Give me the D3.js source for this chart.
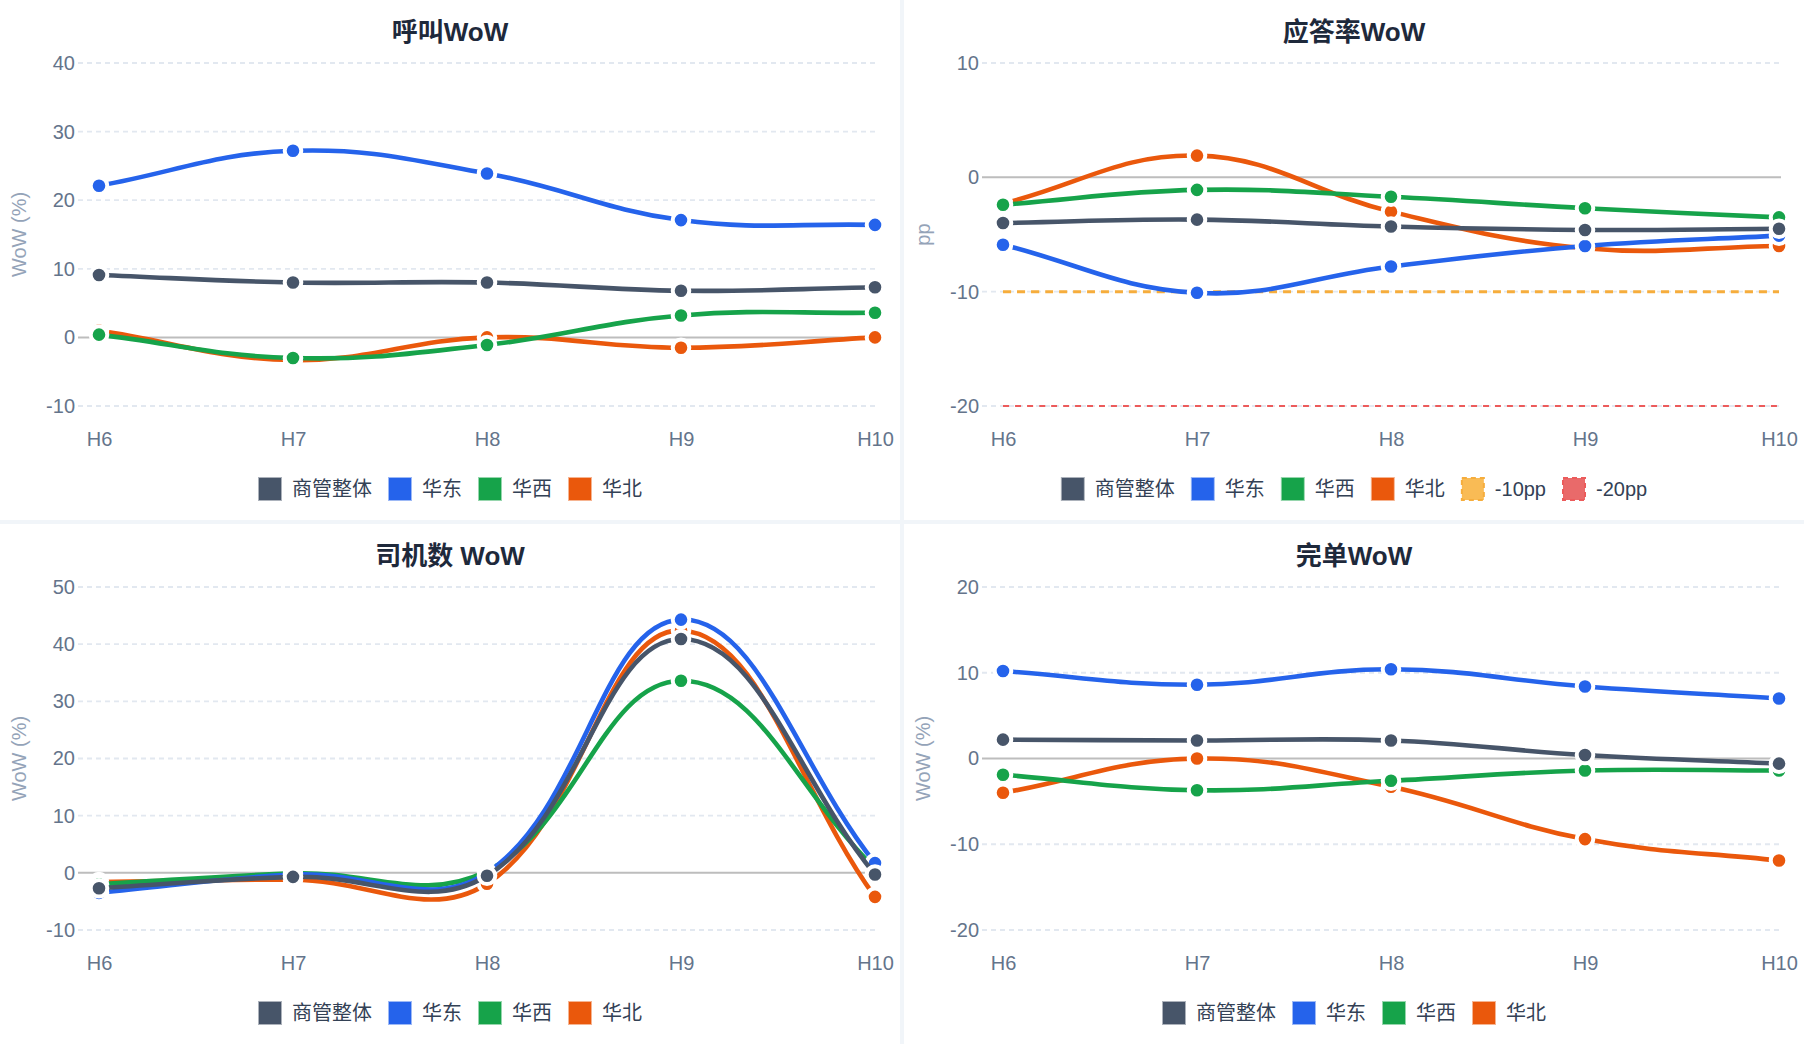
<!DOCTYPE html>
<html>
<head>
<meta charset="utf-8">
<script src="https://cdn.jsdelivr.net/npm/d3@7"></script>
<style>
    body { margin: 0; background: #f1f5f9; }
    #grid {
        display: grid;
        grid-template-columns: 900px 900px;
        grid-template-rows: 520px 520px;
        gap: 4px;
        width: 1804px;
        height: 1044px;
    }
    .panel { background: #ffffff; }
    text { font-family: "Helvetica Neue", Helvetica, Arial, "Noto Sans CJK SC", sans-serif; }
</style>
</head>
<body>
<div id="grid"></div>
<script>
//hourly WoW dashboard, four small line charts
const hours = ["H6", "H7", "H8", "H9", "H10"];
const seriesNames = ["商管整体", "华东", "华西", "华北"];
const seriesColors = ["#475569", "#2563eb", "#16a34a", "#ea580c"];

// 呼叫WoW (%)
const callTotal = [9.1, 8.0, 8.0, 6.8, 7.3];
const callEast = [22.1, 27.2, 23.9, 17.1, 16.4];
const callWest = [0.4, -3.0, -1.1, 3.2, 3.6];
const callNorth = [1.0, -3.3, 0.0, -1.5, 0.0];

// 应答率WoW (pp)
const answerTotal = [-4.0, -3.7, -4.3, -4.6, -4.5];
const answerEast = [-5.9, -10.1, -7.8, -6.0, -5.1];
const answerWest = [-2.4, -1.1, -1.7, -2.7, -3.5];
const answerNorth = [-2.3, 1.9, -3.0, -6.2, -6.0];

// 司机数 WoW (%)
const driverTotal = [-2.7, -0.7, -0.5, 40.9, -0.3];
const driverEast = [-3.5, -0.3, 0.0, 44.3, 1.7];
const driverWest = [-2.0, -0.1, 0.3, 33.6, 0.8];
const driverNorth = [-1.6, -1.2, -1.9, 42.4, -4.2];

// 完单WoW (%)
const orderTotal = [2.2, 2.1, 2.1, 0.4, -0.6];
const orderEast = [10.2, 8.6, 10.4, 8.4, 7.0];
const orderWest = [-1.9, -3.7, -2.6, -1.4, -1.4];
const orderNorth = [-4.0, 0.0, -3.3, -9.4, -11.9];

// reference lines on the answer-rate chart
const thresholdValues = [-10, -20];
const thresholdNames = ["-10pp", "-20pp"];
const thresholdColors = ["#f6ad3c", "#ec5b5b"];
const thresholdFills = ["#f9bb55", "#e96a6a"];

const callTicks = [-10, 0, 10, 20, 30, 40];
const answerTicks = [-20, -10, 0, 10];
const driverTicks = [-10, 0, 10, 20, 30, 40, 50];
const orderTicks = [-20, -10, 0, 10, 20];

const panels = [
    { title: "呼叫WoW", axisTitle: "WoW (%)", ticks: callTicks,
      values: [callTotal, callEast, callWest, callNorth], thresholds: false },
    { title: "应答率WoW", axisTitle: "pp", ticks: answerTicks,
      values: [answerTotal, answerEast, answerWest, answerNorth], thresholds: true },
    { title: "司机数 WoW", axisTitle: "WoW (%)", ticks: driverTicks,
      values: [driverTotal, driverEast, driverWest, driverNorth], thresholds: false },
    { title: "完单WoW", axisTitle: "WoW (%)", ticks: orderTicks,
      values: [orderTotal, orderEast, orderWest, orderNorth], thresholds: false }
];

// spline like chart.js "tension" (control points weighted by segment length)
function tensionCurve(t, top, bottom) {
    return function (context) {
        let pts = [];
        return {
            areaStart: function () {},
            areaEnd: function () {},
            lineStart: function () { pts = []; },
            point: function (x, y) { pts.push([+x, +y]); },
            lineEnd: function () {
                const n = pts.length;
                if (n === 0) return;
                const cps = pts.map(function (p, i) {
                    const prev = pts[Math.max(i - 1, 0)];
                    const next = pts[Math.min(i + 1, n - 1)];
                    const d01 = Math.hypot(p[0] - prev[0], p[1] - prev[1]);
                    const d12 = Math.hypot(next[0] - p[0], next[1] - p[1]);
                    let s01 = d01 / (d01 + d12), s12 = d12 / (d01 + d12);
                    if (isNaN(s01)) s01 = 0;
                    if (isNaN(s12)) s12 = 0;
                    const fa = t * s01, fb = t * s12;
                    const clamp = v => Math.max(top, Math.min(bottom, v));
                    return {
                        prev: [p[0] - fa * (next[0] - prev[0]), clamp(p[1] - fa * (next[1] - prev[1]))],
                        next: [p[0] + fb * (next[0] - prev[0]), clamp(p[1] + fb * (next[1] - prev[1]))]
                    };
                });
                context.moveTo(pts[0][0], pts[0][1]);
                for (let i = 1; i < n; i++) {
                    context.bezierCurveTo(cps[i - 1].next[0], cps[i - 1].next[1],
                        cps[i].prev[0], cps[i].prev[1], pts[i][0], pts[i][1]);
                }
            }
        };
    };
}

const width = 900;
const height = 520;
const plotLeft = 78, plotRight = 875;
const plotTop = 63, plotBottom = 406;

panels.forEach(function (panel) {
    const svg = d3.select("#grid")
        .append("div")
        .attr("class", "panel")
        .append("svg")
        .attr("width", width)
        .attr("height", height);

    const x = d3.scalePoint()
        .domain(hours)
        .range([99, 875]);

    const y = d3.scaleLinear()
        .domain(d3.extent(panel.ticks))
        .range([plotBottom, plotTop]);

    //title
    svg.append("text")
        .attr("x", width / 2)
        .attr("y", 32)
        .attr("dy", "0.35em")
        .attr("text-anchor", "middle")
        .attr("font-size", 26)
        .attr("font-weight", "bold")
        .style("fill", "#1e293b")
        .text(panel.title);

    //grid lines, zero line solid
    svg.selectAll(".grid")
        .data(panel.ticks)
        .enter()
        .append("line")
        .attr("x1", plotLeft)
        .attr("x2", d => d === 0 ? plotRight + 2 : plotRight)
        .attr("y1", d => y(d))
        .attr("y2", d => y(d))
        .attr("stroke", d => d === 0 ? "#bdbdbd" : "#e2e8f0")
        .attr("stroke-width", d => d === 0 ? 2 : 1.8)
        .attr("stroke-dasharray", d => d === 0 ? null : "5,4");

    // plain hyphen for negatives, like the original
    const yAxis = svg.append("g")
        .attr("transform", `translate(${plotLeft},0)`)
        .call(d3.axisLeft(y).tickValues(panel.ticks).tickSize(0).tickPadding(3)
            .tickFormat(d => String(d)));
    yAxis.select(".domain").remove();
    yAxis.selectAll("text")
        .attr("font-size", 20)
        .attr("font-family", null)
        .style("fill", "#64748b");

    const xAxis = svg.append("g")
        .attr("transform", `translate(0,${plotBottom})`)
        .call(d3.axisBottom(x).tickSize(0).tickPadding(26));
    xAxis.select(".domain").remove();
    xAxis.selectAll("text")
        .attr("font-size", 20)
        .attr("font-family", null)
        .style("fill", "#64748b");

    //axis title
    svg.append("text")
        .attr("transform", `translate(19,${(plotTop + plotBottom) / 2}) rotate(-90)`)
        .attr("text-anchor", "middle")
        .attr("dy", "0.35em")
        .attr("font-size", 20)
        .style("fill", "#94a3b8")
        .text(panel.axisTitle);

    const line = d3.line()
        .x((d, i) => x(hours[i]))
        .y(d => y(d))
        .curve(tensionCurve(0.4, plotTop, plotBottom));

    //threshold lines are drawn first so they sit underneath
    if (panel.thresholds) {
        thresholdValues.forEach(function (v, k) {
            svg.append("path")
                .attr("d", line(hours.map(() => v)))
                .attr("fill", "none")
                .attr("stroke", thresholdColors[k])
                .attr("stroke-width", k === 0 ? 3 : 2)
                .attr("stroke-dasharray", k === 0 ? "8,6" : "6,6");
        });
    }

    // last series first, so 商管整体 ends on top
    for (let s = seriesNames.length - 1; s >= 0; s--) {
        svg.append("path")
            .attr("d", line(panel.values[s]))
            .attr("fill", "none")
            .attr("stroke", seriesColors[s])
            .attr("stroke-width", 4.6);

        svg.selectAll(".pt" + s)
            .data(panel.values[s])
            .enter()
            .append("circle")
            .attr("cx", (d, i) => x(hours[i]))
            .attr("cy", d => y(d))
            .attr("r", 8.3)
            .style("fill", seriesColors[s])
            .attr("stroke", "#ffffff")
            .attr("stroke-width", 4);
    }

    //legend, centered under the chart
    let items = seriesNames.map((name, i) => ({ name: name, fill: seriesColors[i], stroke: seriesColors[i], dash: null }));
    if (panel.thresholds) {
        thresholdNames.forEach(function (name, k) {
            items.push({ name: name, fill: thresholdFills[k], stroke: thresholdColors[k], dash: "5,4" });
        });
    }

    const legend = svg.append("g");
    let cursor = 0;
    items.forEach(function (item) {
        const g = legend.append("g").attr("transform", `translate(${cursor},0)`);
        g.append("rect")
            .attr("x", 1)
            .attr("y", -11)
            .attr("width", 22)
            .attr("height", 22)
            .style("fill", item.fill)
            .attr("stroke", item.stroke)
            .attr("stroke-opacity", item.dash ? 1 : 0.45)
            .attr("stroke-width", 2)
            .attr("stroke-dasharray", item.dash);
        const label = g.append("text")
            .attr("x", 34)
            .attr("dy", "0.35em")
            .attr("font-size", 20)
            .style("fill", "#334155")
            .text(item.name);
        cursor += 34 + label.node().getComputedTextLength() + 16;
    });
    const legendWidth = cursor - 16;
    legend.attr("transform", `translate(${width / 2 - legendWidth / 2},489)`);
});
</script>
</body>
</html>
